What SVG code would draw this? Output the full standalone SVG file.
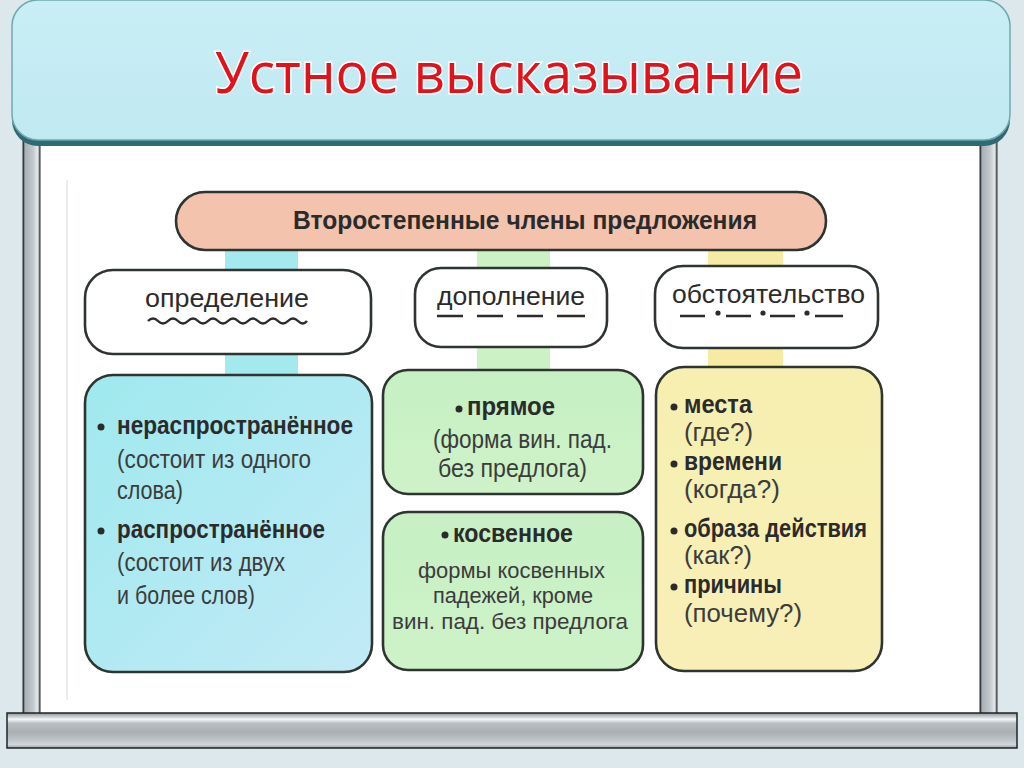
<svg xmlns="http://www.w3.org/2000/svg" width="1024" height="768" viewBox="0 0 1024 768">
<defs>
<linearGradient id="pole" x1="0" y1="0" x2="1" y2="0">
<stop offset="0" stop-color="#1e2428"/>
<stop offset="0.12" stop-color="#a9b1b6"/>
<stop offset="0.6" stop-color="#c3c9cd"/>
<stop offset="0.85" stop-color="#e4e8ea"/>
<stop offset="1" stop-color="#6c7478"/>
</linearGradient>
<linearGradient id="bar" x1="0" y1="0" x2="0" y2="1">
<stop offset="0" stop-color="#8d9498"/>
<stop offset="0.18" stop-color="#f4f6f7"/>
<stop offset="0.3" stop-color="#b8bec2"/>
<stop offset="0.55" stop-color="#a9b0b4"/>
<stop offset="0.75" stop-color="#bcc2c6"/>
<stop offset="0.9" stop-color="#d0d5d8"/>
<stop offset="1" stop-color="#9aa1a5"/>
</linearGradient>
<linearGradient id="banner" x1="0" y1="0" x2="0" y2="1">
<stop offset="0" stop-color="#c9eef5"/>
<stop offset="1" stop-color="#c0e9f2"/>
</linearGradient>
<linearGradient id="cyan" x1="0" y1="0" x2="1" y2="1">
<stop offset="0" stop-color="#9fe9ee"/>
<stop offset="1" stop-color="#c2eaf6"/>
</linearGradient>
<linearGradient id="green" x1="0" y1="0" x2="0" y2="1">
<stop offset="0" stop-color="#c6f0c4"/>
<stop offset="1" stop-color="#cff2c8"/>
</linearGradient>
<linearGradient id="yellow" x1="0" y1="0" x2="0" y2="1">
<stop offset="0" stop-color="#f6efb0"/>
<stop offset="1" stop-color="#f8efb8"/>
</linearGradient>
<style>
.box{stroke:#2e3430;stroke-width:2.6}
.lbl{font-family:"Liberation Sans","Arial",sans-serif;font-size:25px;fill:#2b2b2b}
.b{font-weight:bold}
.r{fill:#3c3c3c}
.s{font-size:22.5px}
.mk{stroke:#2b2b2b;stroke-width:2.4;fill:none}
</style>
</defs>
<rect width="1024" height="768" fill="#dde8ed"/>
<g id="frame">
<rect x="38" y="140" width="944" height="576" fill="#ffffff"/>
<rect x="23" y="135" width="17" height="582" fill="url(#pole)" stroke="#2a3034" stroke-width="1"/>
<rect x="980" y="135" width="17" height="582" fill="url(#pole)" stroke="#2a3034" stroke-width="1"/>
<rect x="7" y="713" width="1010" height="35" fill="url(#bar)" stroke="#1e2428" stroke-width="1.5"/>
<line x1="67" y1="180" x2="67" y2="700" stroke="#e8eeee" stroke-width="2"/>
</g>
<g id="banner">
<rect x="12" y="4" width="998" height="142" rx="26" fill="#2f6a72"/>
<rect x="12" y="0" width="998" height="140" rx="26" fill="url(#banner)" stroke="#6fa9b0" stroke-width="1.5"/>
<text x="509" y="93" text-anchor="middle" font-family="'Open Sans','Liberation Sans',sans-serif" font-size="56" fill="#e1131a" stroke="#ffffff" stroke-width="3" paint-order="stroke" textLength="588" lengthAdjust="spacingAndGlyphs">Устное высказывание</text>
</g>
<g id="connectors">
<rect x="225" y="250" width="73" height="126" fill="#a3e9ee"/>
<rect x="477" y="250" width="73" height="122" fill="#cbf1c4"/>
<rect x="708" y="250" width="75" height="120" fill="#f6eba2"/>
</g>
<g id="root">
<rect class="box" x="176" y="192" width="650" height="58" rx="29" fill="#f4c3ad"/>
<text class="lbl b" x="525" y="229" text-anchor="middle" font-size="24" textLength="464" lengthAdjust="spacingAndGlyphs">Второстепенные члены предложения</text>
</g>
<g id="opredelenie">
<rect class="box" x="85" y="270" width="286" height="84" rx="28" fill="#ffffff"/>
<text class="lbl" x="145" y="307" font-size="26" textLength="164" lengthAdjust="spacingAndGlyphs">определение</text>
<path class="mk" stroke-width="2" d="M148 321 q5 -5 10 0 t10 0 t10 0 t10 0 t10 0 t10 0 t10 0 t10 0 t10 0 t10 0 t10 0 t10 0 t10 0 t10 0 t10 0 t9 0"/>
</g>
<g id="dopolnenie">
<rect class="box" x="415" y="268" width="192" height="79" rx="26" fill="#ffffff"/>
<text class="lbl" x="437" y="305" font-size="26" textLength="148" lengthAdjust="spacingAndGlyphs">дополнение</text>
<path class="mk" stroke-width="2.2" d="M437 316h26M477 316h26M517 316h26M557 316h28"/>
</g>
<g id="obstoyatelstvo">
<rect class="box" x="655" y="266" width="223" height="82" rx="28" fill="#ffffff"/>
<text class="lbl" x="672" y="303" font-size="26" textLength="193" lengthAdjust="spacingAndGlyphs">обстоятельство</text>
<path class="mk" stroke-width="2.2" d="M680 316h25M726 316h25M770 316h25M815 316h28"/>
<circle cx="718" cy="313" r="2.6" fill="#2b2b2b"/>
<circle cx="763" cy="313" r="2.6" fill="#2b2b2b"/>
<circle cx="807" cy="313" r="2.6" fill="#2b2b2b"/>
</g>
<g id="opredelenie-types">
<rect class="box" x="85" y="375" width="287" height="297" rx="28" fill="url(#cyan)"/>
<circle cx="101" cy="427" r="3.5" fill="#2b2b2b"/>
<text class="lbl b" x="117" y="434" textLength="236" lengthAdjust="spacingAndGlyphs">нераспространённое</text>
<text class="lbl r" x="117" y="468" textLength="194" lengthAdjust="spacingAndGlyphs">(состоит из одного</text>
<text class="lbl r" x="117" y="499" textLength="66" lengthAdjust="spacingAndGlyphs">слова)</text>
<circle cx="101" cy="531" r="3.5" fill="#2b2b2b"/>
<text class="lbl b" x="117" y="538" textLength="208" lengthAdjust="spacingAndGlyphs">распространённое</text>
<text class="lbl r" x="117" y="571" textLength="168" lengthAdjust="spacingAndGlyphs">(состоит из двух</text>
<text class="lbl r" x="117" y="604" textLength="138" lengthAdjust="spacingAndGlyphs">и более слов)</text>
</g>
<g id="pryamoe">
<rect class="box" x="383" y="370" width="260" height="124" rx="25" fill="url(#green)"/>
<circle cx="459" cy="409" r="3.5" fill="#2b2b2b"/>
<text class="lbl b" x="467" y="415" textLength="88" lengthAdjust="spacingAndGlyphs">прямое</text>
<text class="lbl r" x="433" y="448" textLength="179" lengthAdjust="spacingAndGlyphs">(форма вин. пад.</text>
<text class="lbl r" x="438" y="477" textLength="149" lengthAdjust="spacingAndGlyphs">без предлога)</text>
</g>
<g id="kosvennoe">
<rect class="box" x="383" y="512" width="260" height="158" rx="25" fill="url(#green)"/>
<circle cx="445" cy="535" r="3.5" fill="#2b2b2b"/>
<text class="lbl b" x="453" y="542" textLength="120" lengthAdjust="spacingAndGlyphs">косвенное</text>
<text class="lbl r s" x="418" y="578" textLength="187" lengthAdjust="spacingAndGlyphs">формы косвенных</text>
<text class="lbl r s" x="433" y="603" textLength="160" lengthAdjust="spacingAndGlyphs">падежей, кроме</text>
<text class="lbl r s" x="392" y="629" textLength="236" lengthAdjust="spacingAndGlyphs">вин. пад. без предлога</text>
</g>
<g id="obstoyatelstvo-types">
<rect class="box" x="656" y="367" width="226" height="304" rx="28" fill="url(#yellow)"/>
<circle cx="674" cy="407" r="3.5" fill="#2b2b2b"/>
<text class="lbl b" x="684" y="413" textLength="68" lengthAdjust="spacingAndGlyphs">места</text>
<text class="lbl r" x="684" y="441" textLength="69" lengthAdjust="spacingAndGlyphs">(где?)</text>
<circle cx="674" cy="464" r="3.5" fill="#2b2b2b"/>
<text class="lbl b" x="684" y="470" textLength="98" lengthAdjust="spacingAndGlyphs">времени</text>
<text class="lbl r" x="684" y="498" textLength="96" lengthAdjust="spacingAndGlyphs">(когда?)</text>
<circle cx="674" cy="531" r="3.5" fill="#2b2b2b"/>
<text class="lbl b" x="684" y="537" textLength="183" lengthAdjust="spacingAndGlyphs">образа действия</text>
<text class="lbl r" x="684" y="564" textLength="68" lengthAdjust="spacingAndGlyphs">(как?)</text>
<circle cx="674" cy="587" r="3.5" fill="#2b2b2b"/>
<text class="lbl b" x="684" y="593" textLength="98" lengthAdjust="spacingAndGlyphs">причины</text>
<text class="lbl r" x="684" y="622" textLength="118" lengthAdjust="spacingAndGlyphs">(почему?)</text>
</g>
</svg>
